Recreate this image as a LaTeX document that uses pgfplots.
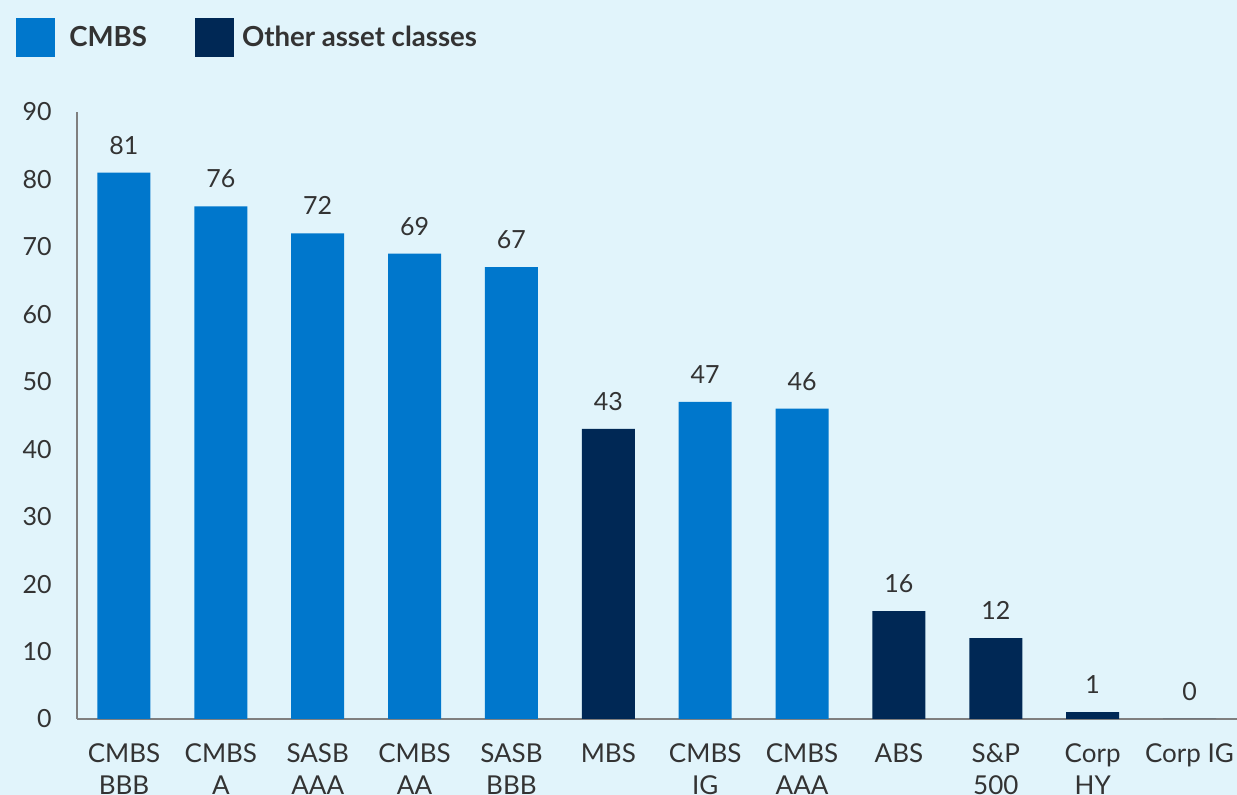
\documentclass[border=0pt]{standalone}
\usepackage{fontspec}
\setmainfont{Lato}
\usepackage{pgfplots}
\pgfplotsset{compat=1.18}
\definecolor{bgblue}{HTML}{E1F4FB}
\definecolor{cmbsblue}{HTML}{0077CC}
\definecolor{navy}{HTML}{002855}
\definecolor{txt}{HTML}{333333}
\definecolor{axisgray}{HTML}{7F7F7F}
\newcommand{\lblfont}{\fontsize{12.5}{16}\selectfont}

\begin{document}
\begin{tikzpicture}[x=1pt,y=1pt]
\useasboundingbox (-38.5,-38) rectangle (580,359.5);
\clip (-38.5,-38) rectangle (580,359.5);
\fill[bgblue] (-38.5,-38) rectangle (580,359.5);
\begin{axis}[
    scale only axis,
    width=580pt, height=303.5pt,
    at={(0,0)}, anchor=south west,
    xmin=-0.485, xmax=11.49,
    ymin=0, ymax=90,
    ybar, bar width=26.5pt, bar shift=0pt,
    axis lines*=left,
    axis line style={-, draw=axisgray, line width=1pt},
    major tick length=0pt,
    xtick={0,...,11},
    xticklabels={CMBS\\BBB, CMBS\\A, SASB\\AAA, CMBS\\AA, SASB\\BBB, MBS,
                 CMBS\\IG, CMBS\\AAA, ABS, S\&P\\500, Corp\\HY, Corp IG},
    ytick={0,10,...,90},
    /pgf/number format/assume math mode=true,
    tick label style={font=\lblfont, text=txt},
    xticklabel style={align=center, anchor=north, inner sep=0pt, yshift=-12pt,
        font=\fontsize{13}{16}\selectfont},
    yticklabel style={anchor=east, inner sep=0pt, xshift=-12.5pt},
    nodes near coords,
    every node near coord/.append style={font=\lblfont, text=txt, anchor=south, inner sep=0pt, yshift=9pt},
    legend columns=2,
    legend style={at={(-0.0578,1.1614)}, anchor=north west, draw=none, fill=none,
        font=\fontsize{13.8}{16}\selectfont\bfseries, text=txt,
        /tikz/every even column/.append style={column sep=22pt}},
    legend image code/.code={\fill[#1, draw=none] (0pt,-9.75pt) rectangle (19.5pt,9.75pt);},
]
\addplot[fill=cmbsblue, draw=none] coordinates {
    (0,81) (1,76) (2,72) (3,69) (4,67) (6,47) (7,46)
};
\addlegendentry{\hspace*{5pt}CMBS}
\addplot[fill=navy, draw=none] coordinates {
    (5,43) (8,16) (9,12) (10,1) (11,0)
};
\addlegendentry{\hspace*{2pt}Other asset classes}
\end{axis}
\end{tikzpicture}
\end{document}
